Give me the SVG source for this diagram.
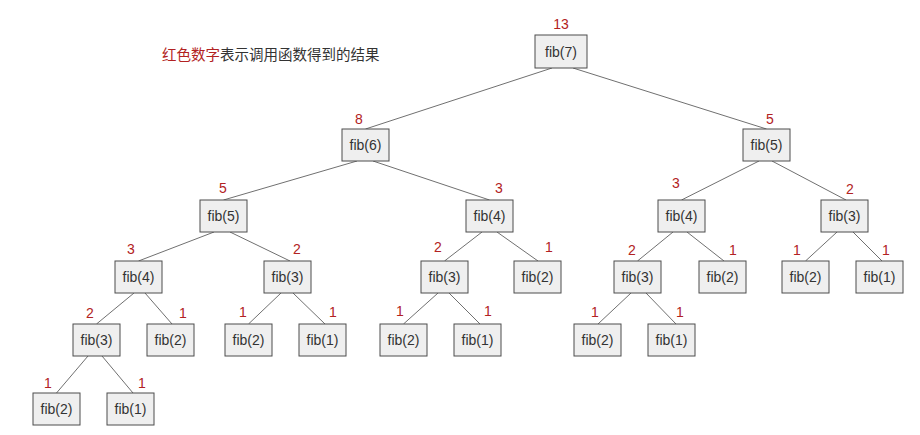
<svg xmlns="http://www.w3.org/2000/svg" width="920" height="435" viewBox="0 0 920 435">
<style>
.box{fill:#efefef;stroke:#4d4d4d;stroke-width:1}
.t{font-family:"Liberation Sans",Arial,sans-serif;font-size:14px;fill:#333;text-anchor:middle}
.v{font-family:"Liberation Sans",Arial,sans-serif;font-size:14px;fill:#b22222;text-anchor:middle}
.e{stroke:#707070;stroke-width:1;fill:none}
.title{font-family:"Noto Sans CJK SC",sans-serif;font-size:14.5px;fill:#333}
</style>
<rect width="920" height="435" fill="#fff"/>
<text class="title" x="162" y="60"><tspan fill="#b22222">红色数字</tspan>表示调用函数得到的结果</text>
<g id="connectors">
<line class="e" x1="552" y1="68" x2="365.5" y2="129"/>
<line class="e" x1="573" y1="68" x2="766.5" y2="129"/>
<line class="e" x1="357" y1="161" x2="223.5" y2="200"/>
<line class="e" x1="373" y1="161" x2="489.5" y2="200"/>
<line class="e" x1="759" y1="161" x2="681.5" y2="200"/>
<line class="e" x1="772" y1="161" x2="846" y2="200"/>
<line class="e" x1="214" y1="232" x2="138.5" y2="261"/>
<line class="e" x1="230" y1="232" x2="290" y2="261"/>
<line class="e" x1="482" y1="232" x2="444.5" y2="261"/>
<line class="e" x1="497" y1="232" x2="538" y2="261"/>
<line class="e" x1="673" y1="232" x2="637.5" y2="261"/>
<line class="e" x1="687" y1="232" x2="724" y2="261"/>
<line class="e" x1="837" y1="232" x2="805.5" y2="261"/>
<line class="e" x1="853" y1="232" x2="882" y2="261"/>
<line class="e" x1="134" y1="293" x2="96.5" y2="324"/>
<line class="e" x1="145" y1="293" x2="172" y2="324"/>
<line class="e" x1="281" y1="293" x2="248.5" y2="324"/>
<line class="e" x1="293" y1="293" x2="325" y2="324"/>
<line class="e" x1="438" y1="293" x2="403.5" y2="324"/>
<line class="e" x1="449" y1="293" x2="480" y2="324"/>
<line class="e" x1="631" y1="293" x2="598" y2="324"/>
<line class="e" x1="646" y1="293" x2="676" y2="324"/>
<line class="e" x1="88" y1="356" x2="56.5" y2="393"/>
<line class="e" x1="102" y1="356" x2="133" y2="393"/>
</g>
<g id="n0"><rect class="box" x="535" y="35" width="52" height="33"/><text class="t" x="561" y="56.5">fib(7)</text><text class="v" x="561" y="29">13</text></g>
<g id="n1"><rect class="box" x="342" y="129" width="47" height="32"/><text class="t" x="365.5" y="150">fib(6)</text><text class="v" x="359" y="124">8</text></g>
<g id="n2"><rect class="box" x="743" y="129" width="47" height="32"/><text class="t" x="766.5" y="150">fib(5)</text><text class="v" x="770" y="124">5</text></g>
<g id="n3"><rect class="box" x="200" y="200" width="47" height="32"/><text class="t" x="223.5" y="221">fib(5)</text><text class="v" x="223" y="193">5</text></g>
<g id="n4"><rect class="box" x="466" y="200" width="47" height="32"/><text class="t" x="489.5" y="221">fib(4)</text><text class="v" x="499" y="193">3</text></g>
<g id="n5"><rect class="box" x="658" y="200" width="47" height="32"/><text class="t" x="681.5" y="221">fib(4)</text><text class="v" x="676" y="188">3</text></g>
<g id="n6"><rect class="box" x="821" y="200" width="47" height="32"/><text class="t" x="844.5" y="221">fib(3)</text><text class="v" x="850" y="194">2</text></g>
<g id="n7"><rect class="box" x="115" y="261" width="47" height="32"/><text class="t" x="138.5" y="282">fib(4)</text><text class="v" x="131" y="254">3</text></g>
<g id="n8"><rect class="box" x="264" y="261" width="47" height="32"/><text class="t" x="287.5" y="282">fib(3)</text><text class="v" x="297" y="254">2</text></g>
<g id="n9"><rect class="box" x="421" y="261" width="47" height="32"/><text class="t" x="444.5" y="282">fib(3)</text><text class="v" x="438" y="252">2</text></g>
<g id="n10"><rect class="box" x="514" y="261" width="47" height="32"/><text class="t" x="537.5" y="282">fib(2)</text><text class="v" x="549" y="252">1</text></g>
<g id="n11"><rect class="box" x="614" y="261" width="47" height="32"/><text class="t" x="637.5" y="282">fib(3)</text><text class="v" x="632" y="255">2</text></g>
<g id="n12"><rect class="box" x="699" y="261" width="47" height="32"/><text class="t" x="722.5" y="282">fib(2)</text><text class="v" x="733" y="255">1</text></g>
<g id="n13"><rect class="box" x="782" y="261" width="47" height="32"/><text class="t" x="805.5" y="282">fib(2)</text><text class="v" x="797" y="255">1</text></g>
<g id="n14"><rect class="box" x="856" y="261" width="47" height="32"/><text class="t" x="879.5" y="282">fib(1)</text><text class="v" x="886" y="255">1</text></g>
<g id="n15"><rect class="box" x="73" y="324" width="47" height="32"/><text class="t" x="96.5" y="345">fib(3)</text><text class="v" x="90" y="318">2</text></g>
<g id="n16"><rect class="box" x="147" y="324" width="47" height="32"/><text class="t" x="170.5" y="345">fib(2)</text><text class="v" x="183" y="318">1</text></g>
<g id="n17"><rect class="box" x="225" y="324" width="47" height="32"/><text class="t" x="248.5" y="345">fib(2)</text><text class="v" x="243" y="317">1</text></g>
<g id="n18"><rect class="box" x="299" y="324" width="47" height="32"/><text class="t" x="322.5" y="345">fib(1)</text><text class="v" x="333" y="317">1</text></g>
<g id="n19"><rect class="box" x="380" y="324" width="47" height="32"/><text class="t" x="403.5" y="345">fib(2)</text><text class="v" x="400" y="316">1</text></g>
<g id="n20"><rect class="box" x="454" y="324" width="47" height="32"/><text class="t" x="477.5" y="345">fib(1)</text><text class="v" x="488" y="316">1</text></g>
<g id="n21"><rect class="box" x="574" y="324" width="47" height="32"/><text class="t" x="597.5" y="345">fib(2)</text><text class="v" x="595" y="317">1</text></g>
<g id="n22"><rect class="box" x="648" y="324" width="47" height="32"/><text class="t" x="671.5" y="345">fib(1)</text><text class="v" x="680" y="317">1</text></g>
<g id="n23"><rect class="box" x="33" y="393" width="47" height="32"/><text class="t" x="56.5" y="414">fib(2)</text><text class="v" x="48" y="388">1</text></g>
<g id="n24"><rect class="box" x="107" y="393" width="47" height="32"/><text class="t" x="130.5" y="414">fib(1)</text><text class="v" x="142" y="388">1</text></g>
</svg>
